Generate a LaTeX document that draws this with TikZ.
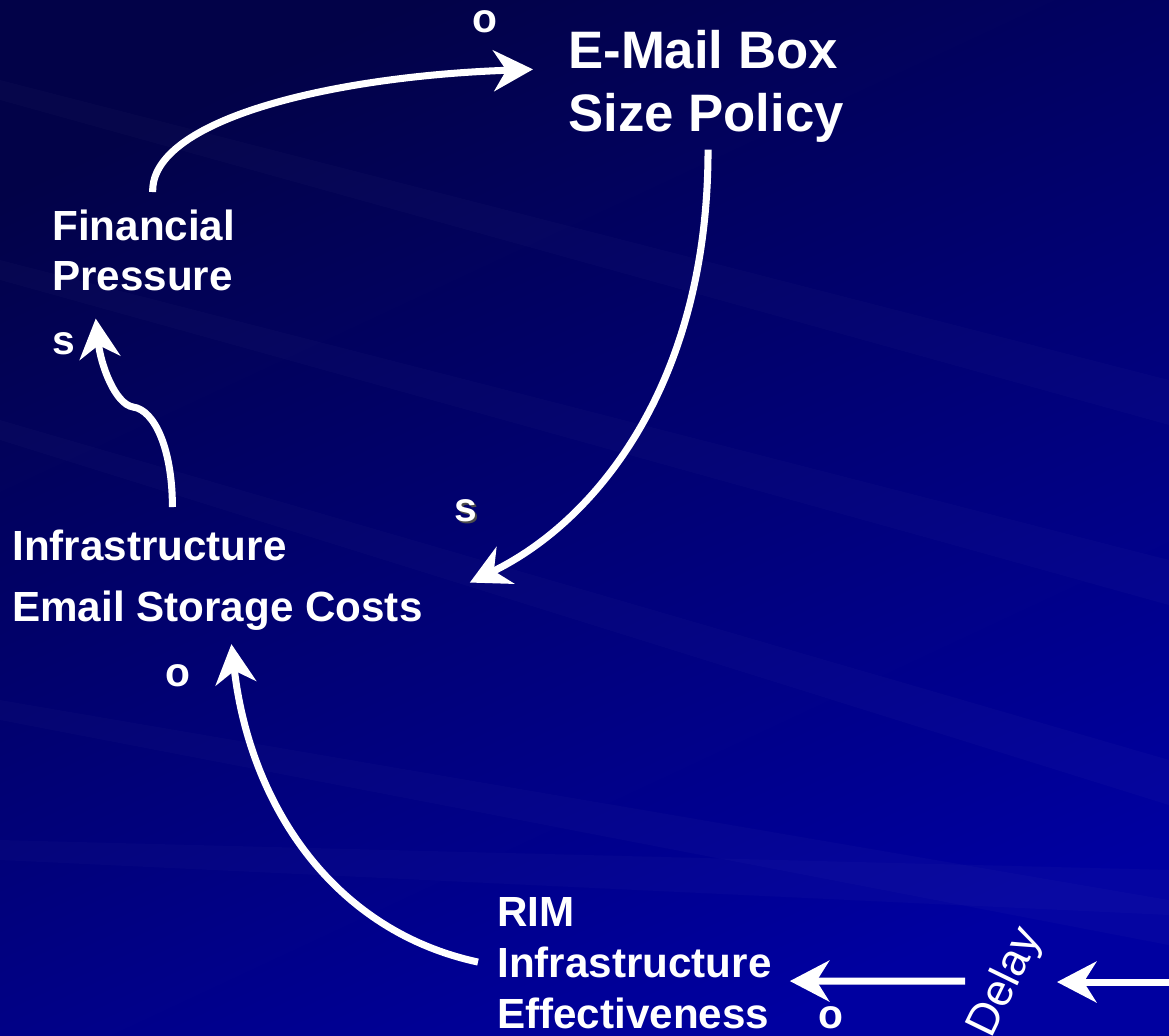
\documentclass[tikz,border=0pt]{standalone}
\usepackage{fontspec}
\setmainfont{Liberation Sans}
\usetikzlibrary{arrows.meta}
\usetikzlibrary{positioning}

\definecolor{bgdark}{RGB}{2,2,72}
\definecolor{bglight}{RGB}{0,0,160}

\tikzset{
	var/.style={text=white, inner sep=0pt, anchor=north west, align=left, font=\fontsize{30}{35.6}\selectfont\bfseries},
	policy/.style={var, font=\fontsize{37.5}{44.8}\selectfont\bfseries},
	sign/.style={text=white, inner sep=0pt, font=\fontsize{29}{35}\selectfont\bfseries},
	link/.style={white, line width=5pt, -{Stealth[length=28pt, width=29pt, inset=9pt]}},
}

\begin{document}
\begin{tikzpicture}[x=0.025cm, y=-0.025cm]
	\useasboundingbox (0,0) rectangle (1169,1035);
	\shade[top color=bgdark, bottom color=bglight, shading angle=25] (0,0) rectangle (1169,1035);
	% faint streaks
	\foreach \ya/\yb in {80/380, 260/560, 420/760, 700/900, 840/870}{
		\fill[white, opacity=0.018] (0,\ya) -- (1169,\yb) -- (1169,\yb+45) -- (0,\ya+20) -- cycle;
	}

	\draw (568,30) node[policy] (box) {E-Mail Box\\Size Policy};
	\draw (52,210) node[var] (pressure) {Financial\\Pressure};
	\draw (12,530) node[var, font=\fontsize{30}{43.4}\selectfont\bfseries] (costs) {Infrastructure\\Email Storage Costs};
	\draw (497,897) node[var, font=\fontsize{30}{36.3}\selectfont\bfseries] (rim) {RIM\\Infrastructure\\Effectiveness};
	\draw (1006,983) node[text=white, inner sep=0pt, rotate=64, font=\fontsize{32}{38}\selectfont] (delay) {Delay};
	\coordinate (feed) at (1169,982);

	\draw (485,22) node[sign] (s1) {o};
	\draw (64,344) node[sign] (s2) {s};
	\draw (468,513) node[sign, text=black!70] {s};
	\draw (466,511) node[sign] (s3) {s};
	\draw (178,676) node[sign] (s4) {o};
	\draw (831,1018) node[sign] (s5) {o};

	\draw[link] ([shift={(9,-18)}]pressure.north) .. controls +(-2,-72) and +(-203,7) .. ([shift={(-35,-17)}]box.west);
	\draw[link] ([shift={(2,7)}]box.south) .. controls +(0,232) and +(128,-62) .. ([shift={(47,2)}]costs.east);
	\draw[link] ([shift={(-45,-23)}]costs.north) .. controls +(0,-57) and +(22,3) .. (133,407)
		.. controls +(-18,-3) and +(5,46) .. ([shift={(-48,27)}]pressure.south);
	\draw[link] ([shift={(-19,-1)}]rim.west) .. controls +(-148,-32) and +(18,157) .. ([shift={(14,13)}]costs.south);
	\draw[link] ([shift={(-41,-2)}]delay.center) -- ([shift={(18,18)}]rim.east);
	\draw[link] (feed) -- ([shift={(51,-1)}]delay.center);

\end{tikzpicture}
\end{document}
